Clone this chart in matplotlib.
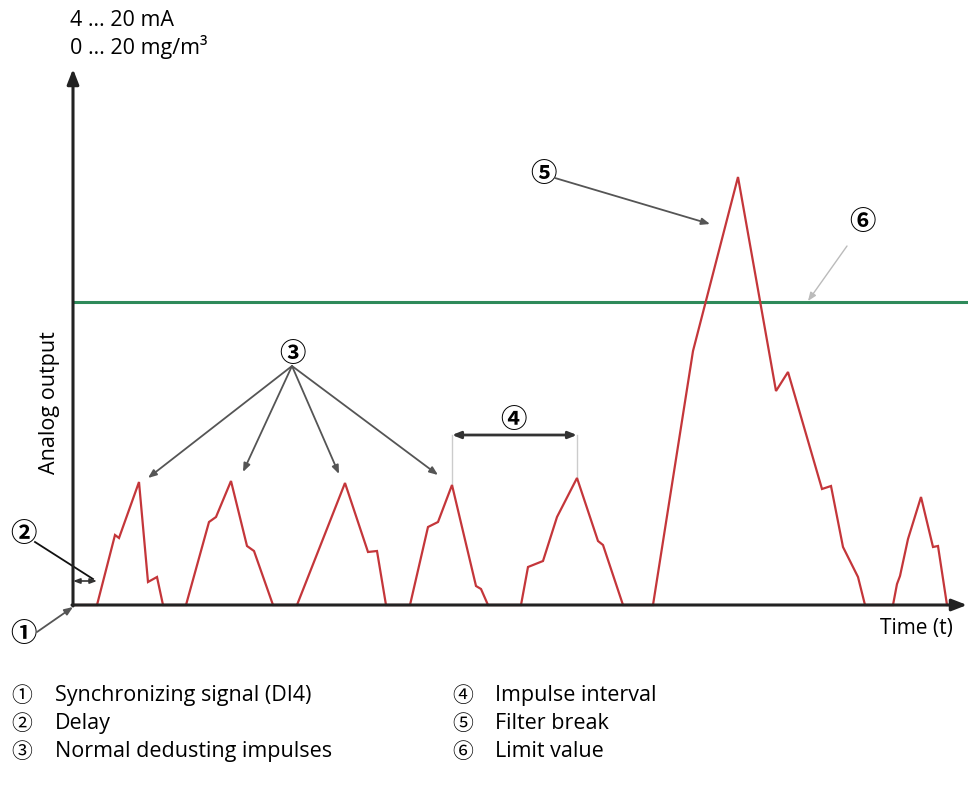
import matplotlib
matplotlib.use("Agg")
import matplotlib.pyplot as plt

# ---- data (time units, analog output units) ----
time_t = [0, 24, 42, 46, 66, 75, 84, 90,
          113, 136, 143, 158, 174, 181, 200,
          224, 272, 295, 304, 313,
          337, 355, 365, 379, 403, 408, 415,
          448, 455, 470, 484, 504, 525, 530, 550,
          580, 620, 665, 703, 715, 749, 758, 770, 785, 792,
          820, 824, 827, 835, 848, 860, 865, 874, 880]
output_v = [0, 0, 70, 67, 123, 23, 28, 0,
            0, 83, 88, 124, 59, 54, 0,
            0, 122, 53, 54, 0,
            0, 78, 83, 120, 19, 16, 0,
            0, 38, 44, 88, 127, 64, 60, 0,
            0, 254, 428, 214, 233, 116, 119, 58, 28, 0,
            0, 21, 29, 66, 108, 58, 59, 0, 0]
limit_value = 303
axis_x_end = 894
axis_y_end = 536
delay_t = 24

y_label_lines = ["4 \u2026 20 mA", "0 \u2026 20 mg/m\u00b3"]
y_axis_title = "Analog output"
x_axis_title = "Time (t)"
markers = ["\u2460", "\u2461", "\u2462", "\u2463", "\u2464", "\u2465"]
legend_texts = ["Synchronizing signal (DI4)", "Delay", "Normal dedusting impulses",
                "Impulse interval", "Filter break", "Limit value"]

# impulse peaks pointed to by marker 3
impulse_tips_t = [75, 170, 266, 365]
impulse_tips_v = [127, 133, 131, 130]
interval_t = [379, 504]
interval_peak_v = [120, 127]
interval_v = 170

TXT = ['Open Sans', 'Noto Sans CJK JP', 'DejaVu Sans']
CIRC = ['Noto Sans CJK JP', 'DejaVu Sans']

fig = plt.figure(figsize=(9.68, 8.03), dpi=100)
ax = fig.add_axes([0, 0, 1, 1])
ax.set_xlim(-73, 895)
ax.set_ylim(-197, 606)
ax.axis('off')

red = '#c4363a'
green = '#2e8a5a'
grey = '#444444'

# limit line
ax.plot([0, 895], [limit_value, limit_value], color=green, lw=2.2, zorder=2, solid_capstyle='butt')
# signal
ax.plot(time_t, output_v, color=red, lw=1.6, zorder=3, solid_joinstyle='miter')

# axes with arrows
ax.annotate('', xy=(0, axis_y_end), xytext=(0, -1),
            arrowprops=dict(arrowstyle='-|>,head_length=0.9,head_width=0.35', color='#222222', lw=2.2,
                            shrinkA=0, shrinkB=0), zorder=5)
ax.annotate('', xy=(axis_x_end, 0), xytext=(-1, 0),
            arrowprops=dict(arrowstyle='-|>,head_length=0.9,head_width=0.35', color='#222222', lw=2.2,
                            shrinkA=0, shrinkB=0), zorder=5)

# axis texts
ax.text(-3, 586, y_label_lines[0], fontsize=15.5, family=TXT, ha='left', va='center')
ax.text(-3, 559, y_label_lines[1], fontsize=15.5, family=TXT, ha='left', va='center')
ax.text(-23, 203, y_axis_title, fontsize=15.5, family=TXT, ha='center', va='center', rotation=90)
ax.text(843, -23, x_axis_title, fontsize=15, family=TXT, ha='center', va='center')

def circ(x, y, s, size=19):
    ax.text(x, y, s, fontsize=size, family=CIRC, ha='center', va='center', fontweight='bold')

def arrow(x0, y0, x1, y1, color=grey, lw=1.3, style='-|>,head_length=0.5,head_width=0.2'):
    ax.annotate('', xy=(x1, y1), xytext=(x0, y0),
                arrowprops=dict(arrowstyle=style, color=color, lw=lw, shrinkA=0, shrinkB=0))

# 1
circ(-50, -29, markers[0])
arrow(-36, -27, 0, -2, color='#555555')
# 2
circ(-50, 71, markers[1])
ax.plot([-38, 20], [63, 26], color='#111111', lw=1.3)
arrow(0, 24, delay_t, 24, color='#333333', lw=1.2, style='<|-|>,head_length=0.4,head_width=0.15')
# 3
circ(219, 251, markers[2])
for tx, tv in zip(impulse_tips_t, impulse_tips_v):
    arrow(219, 239, tx, tv, color='#555555')
# 4
circ(440, 185, markers[3])
arrow(interval_t[0], interval_v, interval_t[1], interval_v, color='#333333', lw=2,
      style='<|-|>,head_length=0.5,head_width=0.2')
for tx, pv in zip(interval_t, interval_peak_v):
    ax.plot([tx, tx], [interval_v, pv], color='#cccccc', lw=1)
# 5
circ(470, 431, markers[4])
arrow(482, 427, 637, 381, color='#555555')
# 6
circ(789, 383, markers[5])
arrow(774, 359, 735, 304, color='#bbbbbb', lw=1)

# legend
rows_v = [-90, -118, -146]
for i in range(3):
    ax.text(-51, rows_v[i], markers[i], fontsize=15, family=CIRC, ha='center', va='center')
    ax.text(-18, rows_v[i], legend_texts[i], fontsize=15.5, family=TXT, ha='left', va='center')
    ax.text(390, rows_v[i], markers[i + 3], fontsize=15, family=CIRC, ha='center', va='center')
    ax.text(422, rows_v[i], legend_texts[i + 3], fontsize=15.5, family=TXT, ha='left', va='center')

fig.savefig('out.png', dpi=100)
